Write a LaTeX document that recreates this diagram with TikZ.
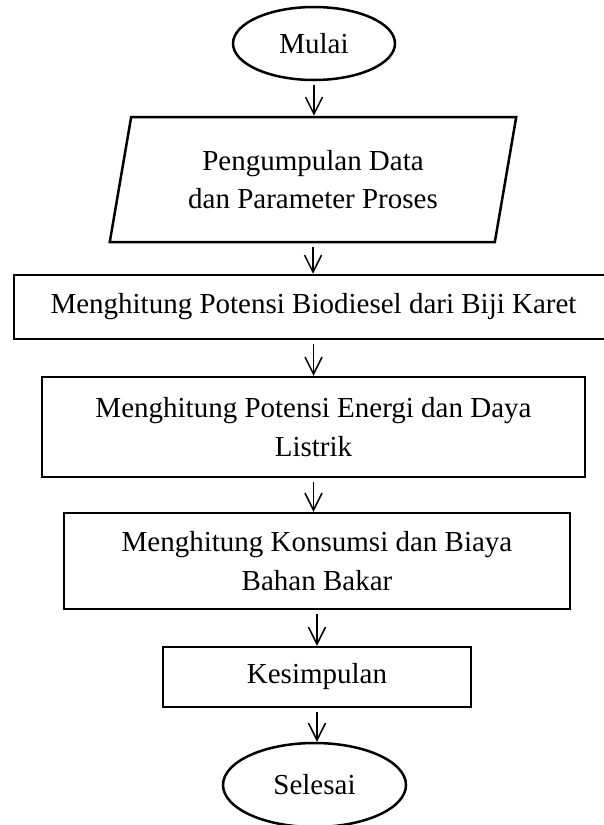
\documentclass[tikz,border=0pt]{standalone}
\usepackage{fontspec}
\setmainfont{Liberation Serif}
\usetikzlibrary{shapes.geometric,arrows.meta}
\newcommand{\drawflow}{\draw[line width=1.5pt,shorten <=4pt,-{Straight Barb[length=17pt,width=17pt]}]}
\tikzset{
  flowtext/.style={align=center,font=\fontsize{29}{38.5}\selectfont,inner sep=0pt},
  flowbox/.style={flowtext,draw,line width=2.5pt,rectangle},
  terminal/.style={flowtext,draw,line width=2.5pt,ellipse},
  inputbox/.style={flowtext,draw,line width=2.5pt,trapezium,trapezium left angle=76,
    trapezium right angle=104,trapezium stretches=true}
}

\begin{document}
\begin{tikzpicture}[x=1pt,y=-1pt]
\useasboundingbox (0,0) rectangle (603,825);
\node[terminal,minimum width=162pt,minimum height=73pt] (mulai) at (314,43.5) {Mulai};
\node[inputbox,minimum width=408pt,minimum height=125pt] (data) at (313,179.5) {Pengumpulan Data\\dan Parameter Proses};
\node[flowbox,minimum width=599pt,minimum height=64pt] (biodiesel) at (313.5,307) {Menghitung Potensi Biodiesel dari Biji Karet};
\node[flowbox,minimum width=543pt,minimum height=100pt] (energi) at (313.5,427) {Menghitung Potensi Energi dan Daya\\Listrik};
\node[flowbox,minimum width=506pt,minimum height=96pt] (biaya) at (317,561) {Menghitung Konsumsi dan Biaya\\Bahan Bakar};
\node[flowbox,minimum width=308pt,minimum height=60pt] (simpul) at (317,677) {Kesimpulan};
\node[terminal,minimum width=183pt,minimum height=84pt] (selesai) at (314.5,785) {Selesai};
\drawflow (mulai.south) -- (mulai.south |- data.north);
\drawflow (data.south) -- (data.south |- biodiesel.north);
\drawflow (biodiesel.south) -- (biodiesel.south |- energi.north);
\drawflow (energi.south) -- (energi.south |- biaya.north);
\drawflow (biaya.south) -- (biaya.south |- simpul.north);
\drawflow (simpul.south) -- (simpul.south |- selesai.north);
\end{tikzpicture}
\end{document}
